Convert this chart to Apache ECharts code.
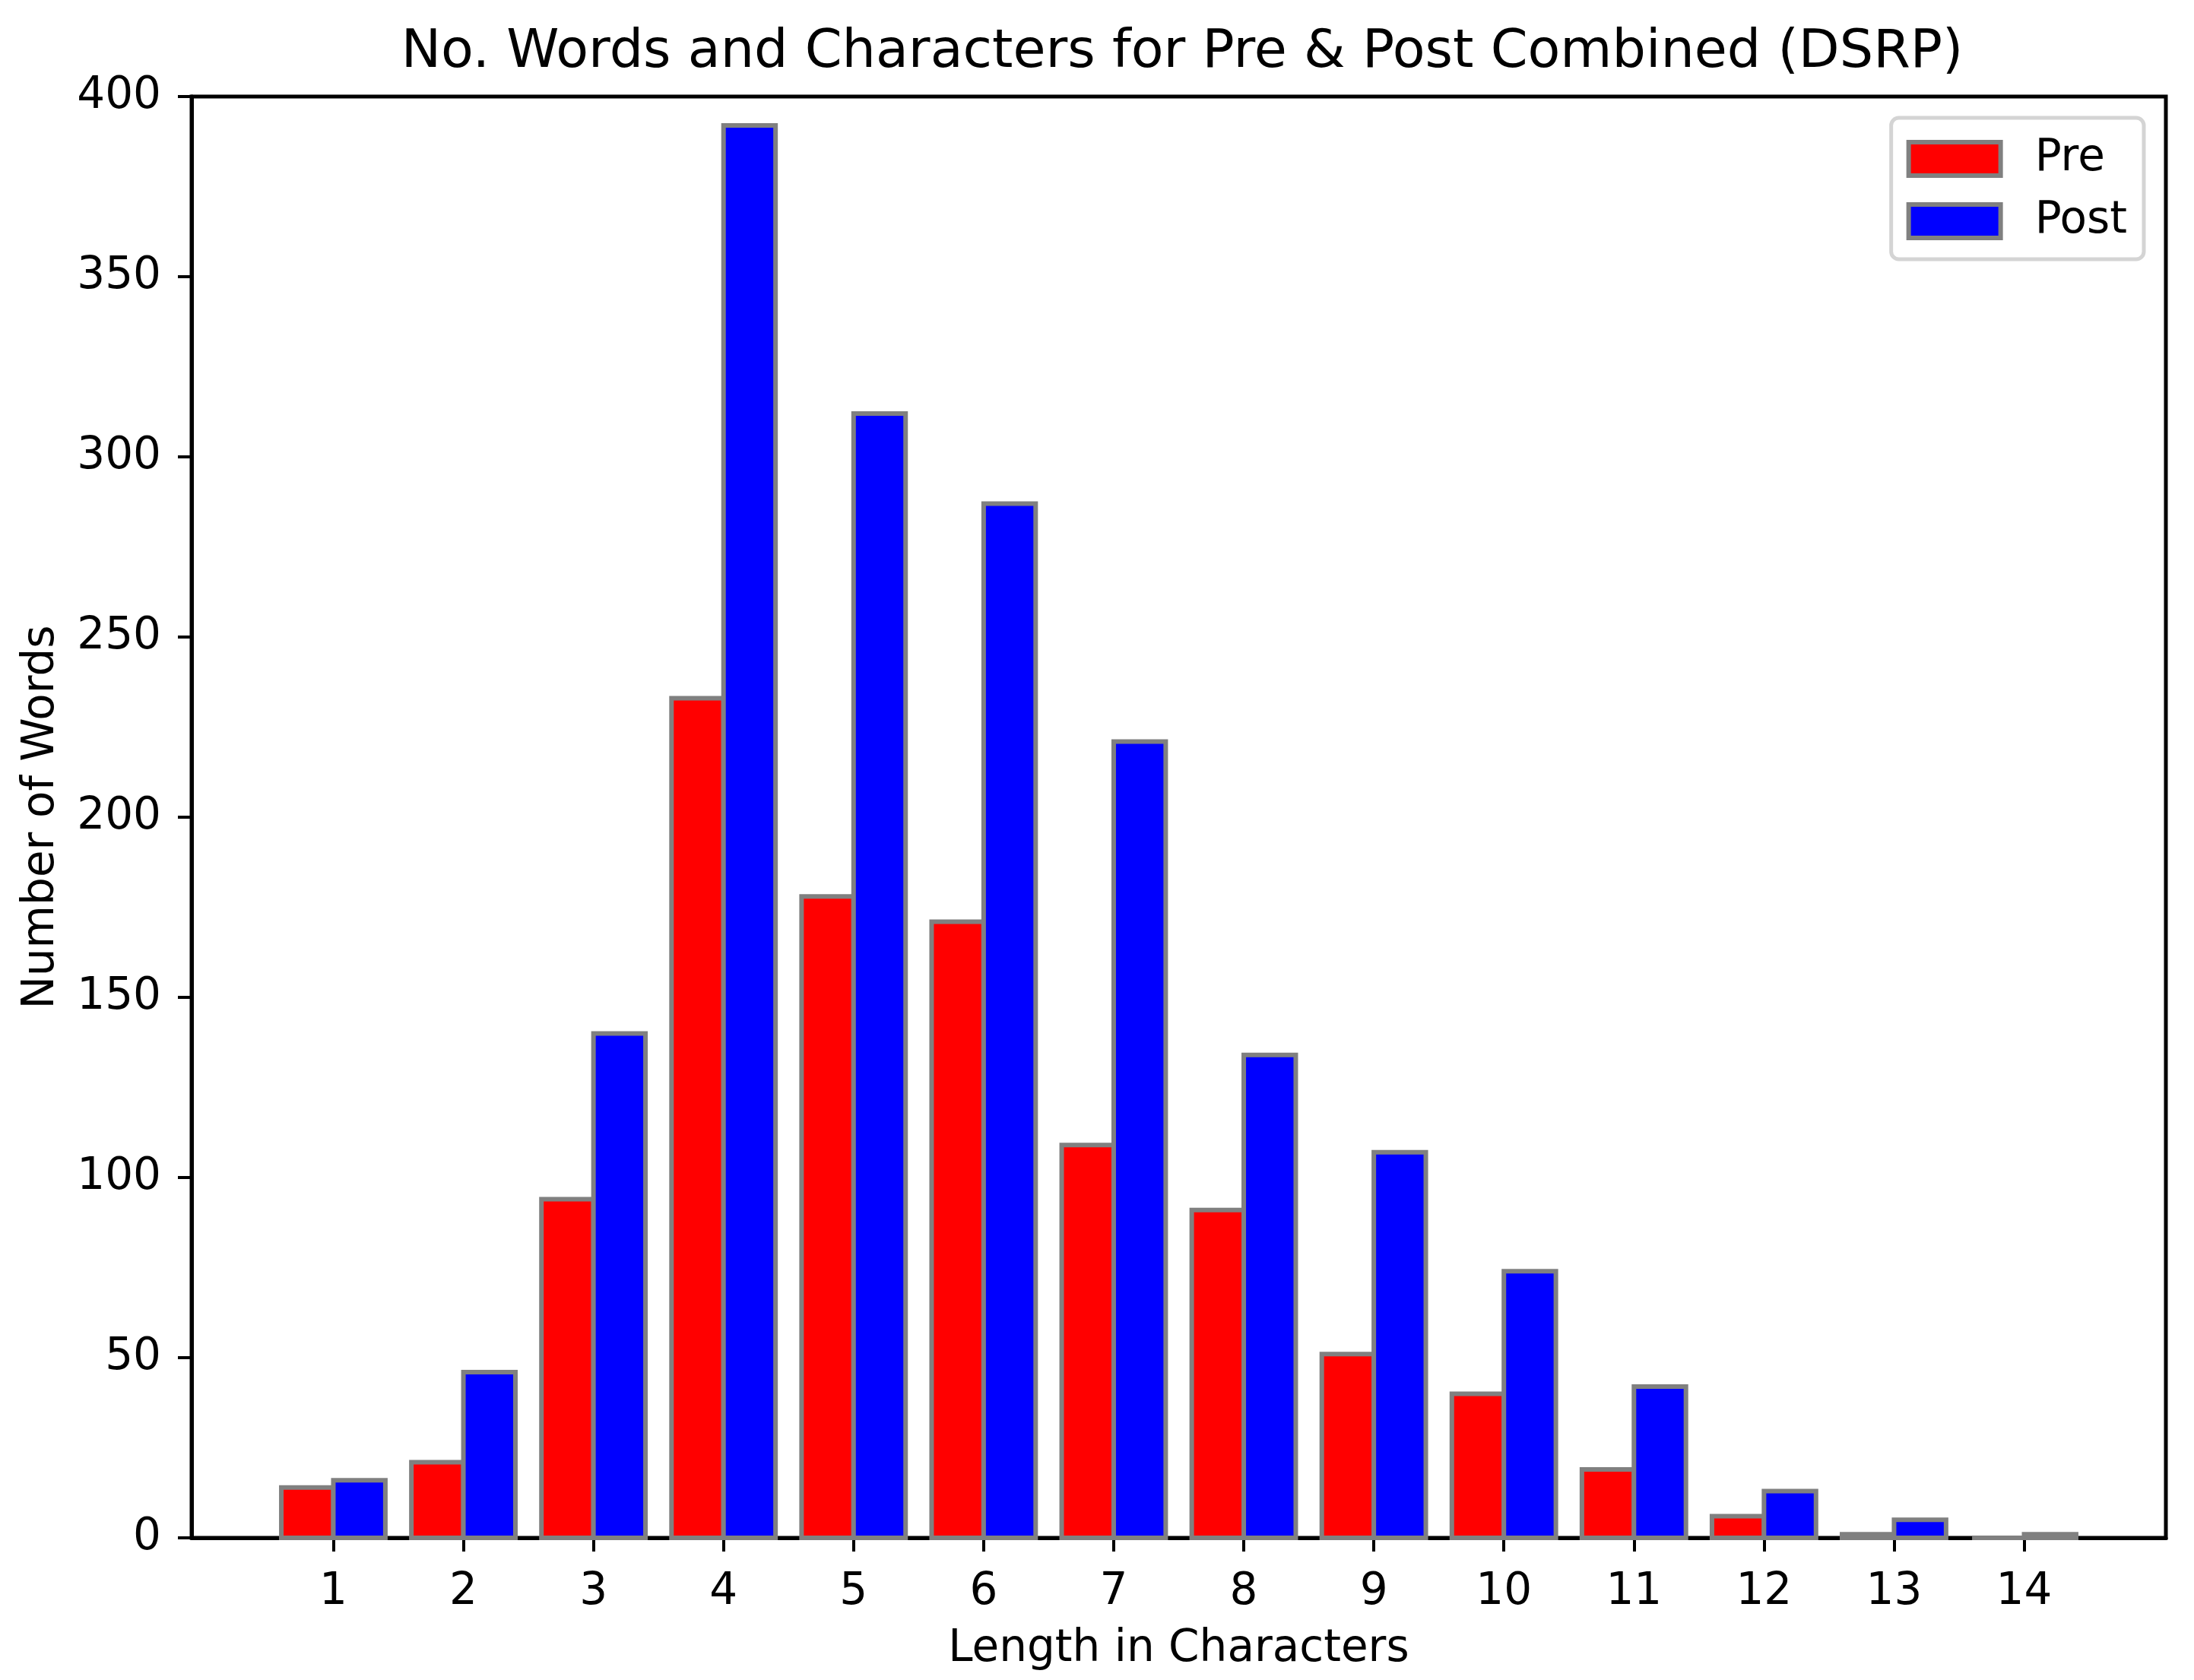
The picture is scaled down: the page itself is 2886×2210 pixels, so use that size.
<!DOCTYPE html>
<html>
<head>
<meta charset="utf-8">
<title>No. Words and Characters</title>
<script src="https://cdn.jsdelivr.net/npm/echarts@6/dist/echarts.min.js"></script>
<style>
  html, body { margin: 0; padding: 0; background: #fff; }
  #chart { width: 2886px; height: 2210px; }
</style>
</head>
<body>
<div id="chart"></div>
<script>
// word lengths (x categories)
const lengths = [1, 2, 3, 4, 5, 6, 7, 8, 9, 10, 11, 12, 13, 14];
// number of words per length
const preCounts = [14, 21, 94, 233, 178, 171, 109, 91, 51, 40, 19, 6, 1, 0];
const postCounts = [16, 46, 140, 392, 312, 287, 221, 134, 107, 74, 42, 13, 5, 1];
const yTicks = [0, 50, 100, 150, 200, 250, 300, 350, 400];

const BAR_W = 0.4;
const FONT = 'DejaVu Sans';

// bar drawn from x+offset to x+offset+BAR_W through the axis scales
const makeRender = (offset, fill) => (params, api) => {
  const x = api.value(0);
  const v = api.value(1);
  const tl = api.coord([x + offset, v]);
  const br = api.coord([x + offset + BAR_W, 0]);
  return {
    type: 'rect',
    shape: { x: tl[0], y: tl[1], width: br[0] - tl[0], height: br[1] - tl[1] },
    style: { fill: fill, stroke: '#808080', lineWidth: 6 }
  };
};

const chart = echarts.init(document.getElementById('chart'));

const option = {
  animation: false,
  backgroundColor: '#ffffff',
  textStyle: { fontFamily: FONT, color: '#000' },
  title: {
    text: 'No. Words and Characters for Pre & Post Combined (DSRP)',
    left: 1550,
    textAlign: 'center',
    top: 30,
    textStyle: { fontFamily: FONT, fontSize: 70, fontWeight: 'normal', color: '#000' }
  },
  legend: {
    orient: 'vertical',
    right: 66,
    top: 155,
    padding: [25, 22, 21, 20],
    itemGap: 24,
    itemWidth: 121,
    itemHeight: 44,
    backgroundColor: '#fff',
    borderColor: '#d4d4d4',
    borderWidth: 5,
    borderRadius: 10,
    textStyle: { fontFamily: FONT, fontSize: 58, color: '#000', padding: [0, 0, 0, 40] },
    data: [
      { name: 'Pre', icon: 'rect', itemStyle: { color: '#ff0000', borderColor: '#808080', borderWidth: 6 } },
      { name: 'Post', icon: 'rect', itemStyle: { color: '#0000ff', borderColor: '#808080', borderWidth: 6 } }
    ]
  },
  grid: {
    left: 252, right: 37, top: 127, bottom: 187,
    outerBoundsMode: 'none',
    show: true,
    borderColor: '#000',
    borderWidth: 5,
    backgroundColor: 'transparent'
  },
  xAxis: {
    type: 'value',
    min: -0.09,
    max: 15.09,
    name: 'Length in Characters',
    nameLocation: 'middle',
    nameGap: 118,
    nameTextStyle: { fontFamily: FONT, fontSize: 58, color: '#000' },
    axisLine: { show: true, onZero: false, lineStyle: { color: '#000', width: 5 } },
    axisTick: { show: true, inside: false, length: 18, lineStyle: { color: '#000', width: 4 }, customValues: lengths },
    axisLabel: { fontFamily: FONT, fontSize: 58, color: '#000', margin: 43, customValues: lengths },
    splitLine: { show: false }
  },
  yAxis: {
    type: 'value',
    min: 0,
    max: 400,
    interval: 50,
    name: 'Number of Words',
    nameLocation: 'middle',
    nameGap: 168,
    nameTextStyle: { fontFamily: FONT, fontSize: 58, color: '#000' },
    axisLine: { show: true, onZero: false, lineStyle: { color: '#000', width: 5 } },
    axisTick: { show: true, inside: false, length: 18, lineStyle: { color: '#000', width: 4 }, customValues: yTicks },
    axisLabel: { fontFamily: FONT, fontSize: 58, color: '#000', margin: 40, customValues: yTicks },
    splitLine: { show: false }
  },
  series: [
    {
      name: 'Pre',
      type: 'custom',
      renderItem: makeRender(-BAR_W, '#ff0000'),
      itemStyle: { color: '#ff0000', borderColor: '#808080', borderWidth: 6 },
      encode: { x: 0, y: 1 },
      data: lengths.map((x, i) => [x, preCounts[i]]),
      z: 2
    },
    {
      name: 'Post',
      type: 'custom',
      renderItem: makeRender(0, '#0000ff'),
      itemStyle: { color: '#0000ff', borderColor: '#808080', borderWidth: 6 },
      encode: { x: 0, y: 1 },
      data: lengths.map((x, i) => [x, postCounts[i]]),
      z: 3
    }
  ]
};

chart.setOption(option);
</script>
</body>
</html>
